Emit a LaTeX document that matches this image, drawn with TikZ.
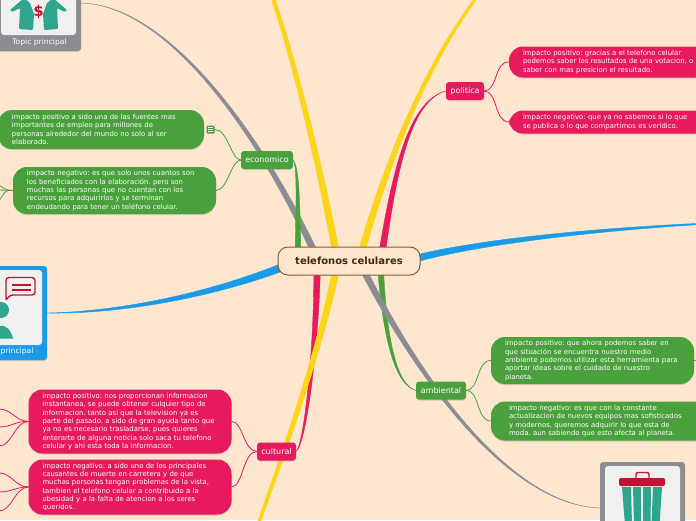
\documentclass[tikz,border=0pt]{standalone}
\usepackage{fontspec}
\setmainfont{DejaVu Sans}
\usetikzlibrary{calc,shadows}
\definecolor{paper}{RGB}{254,230,207}
\definecolor{leaf}{RGB}{75,160,62}
\definecolor{rose}{RGB}{230,26,93}
\definecolor{sky}{RGB}{26,155,232}
\definecolor{slate}{RGB}{140,141,146}
\definecolor{sun}{RGB}{252,212,24}
\definecolor{teal}{RGB}{47,165,142}
\definecolor{wine}{RGB}{196,18,52}
\definecolor{card}{RGB}{240,241,238}
% colour, start, control, control, end, half width at the start, half width at the end
\newcommand{\taper}[7]{\filldraw[#1,line width=0.4pt] ($(#2)+(#6)$) .. controls ($(#3)+0.66*(#6)+0.33*(#7)$) and ($(#4)+0.33*(#6)+0.66*(#7)$) .. ($(#5)+(#7)$) -- ($(#5)-(#7)$) .. controls ($(#4)-0.33*(#6)-0.66*(#7)$) and ($(#3)-0.66*(#6)-0.33*(#7)$) .. ($(#2)-(#6)$) -- cycle;}

\begin{document}
\begin{tikzpicture}[x=1pt,y=-1pt,every node/.style={outer sep=0pt}]

	\tikzstyle{topic}=[fill=#1,text=white,rounded corners=3pt,inner sep=0pt,minimum height=18pt,font=\fontsize{8}{10}\selectfont,drop shadow={shadow xshift=0pt,shadow yshift=-1pt,opacity=0.3}]
	\tikzstyle{bubble}=[fill=#1,text=white,rounded corners=14pt,inner xsep=14pt,inner ysep=0pt,align=left,font=\frenchspacing\fontsize{6.9}{8.35}\selectfont,drop shadow={shadow xshift=0pt,shadow yshift=-1pt,opacity=0.3}]
	\tikzstyle{twig}=[#1,line width=0.8pt]

	\useasboundingbox (0,0) rectangle (696,520);
	\fill[paper] (0,0) rectangle (696,520);

	% corner cards
	\fill[slate,rounded corners=3pt,drop shadow={shadow xshift=0pt,shadow yshift=-1pt,opacity=0.3}] (-10,-20) rectangle (81,51);
	\fill[card,rounded corners=3pt] (1,-20) rectangle (76,35);
	\node (card1) at (39.5,42.5) [text=white,font=\fontsize{7.6}{9}\selectfont] {Topic principal};
	\fill[teal,rounded corners=1pt] (24,-2) -- (10,10) -- (12,12) -- (20,8) -- (19,29) -- (33,30) -- (34,14) -- (30,3) -- cycle;
	\fill[teal,rounded corners=1pt] (53,-2) -- (67,10) -- (65,12) -- (57,8) -- (58,29) -- (44,30) -- (43,14) -- (47,3) -- cycle;
	\node (dollar) at (38.5,11.5) [text=wine,font=\bfseries\fontsize{15}{15}\selectfont] {\$};

	\fill[sky,rounded corners=3pt,drop shadow={shadow xshift=0pt,shadow yshift=-1pt,opacity=0.3}] (-20,266) rectangle (47,360);
	\fill[card,rounded corners=3pt] (-10,270) rectangle (42,345);
	\node (card2) at (17,351) [text=white,font=\fontsize{7.6}{9}\selectfont] {principal};
	\fill[teal] (1,310) circle (8);
	\fill[teal] (-12,338.5) .. controls (-10,325) and (8,318) .. (13,338.5) -- cycle;
	\draw[wine,line width=1.4pt,rounded corners=3pt] (6,299) -- (6,277.5) -- (35,277.5) -- (35,295) -- (10,295) -- (6,300);
	\draw[wine,line width=1.4pt] (12,285) -- (31,285) (12,290) -- (31,290);

	\fill[slate,rounded corners=3pt] (600,462) rectangle (685,540);
	\fill[card,rounded corners=3pt] (605,466) rectangle (680,540);
	\fill[wine,rounded corners=2pt] (619,478) rectangle (665,486);
	\draw[wine,line width=1.4pt,rounded corners=2pt] (636,478) -- (636,472.5) -- (649,472.5) -- (649,478);
	\foreach \xa/\xb/\xc/\xd in {622/631/625/632,633/641/634/641,643/651/643/650.5,653/662/651.5/659.5}
		\fill[teal] (\xa,487) -- (\xb,487) -- (\xd,525) -- (\xc,525) -- cycle;

	\fill[slate] (541,-5) rectangle (621,0);

	% main branches
	\coordinate (midgray1) at (312,247);
	\coordinate (midgray2) at (366,275);
	\coordinate (midsun1) at (335,247);
	\coordinate (midsun2) at (363,247);
	\coordinate (midsun3) at (335,275);
	\coordinate (midrose1) at (383,247);
	\coordinate (midrose2) at (317,275);
	\coordinate (midleaf1) at (298,247);
	\coordinate (midleaf2) at (381,275);
	\coordinate (midsky1) at (280,268);
	\coordinate (midsky2) at (418,258);
	\coordinate (topgray) at (81,3);
	\coordinate (lowgray) at (600,508);
	\coordinate (topsun1) at (273,-2);
	\coordinate (topsun2) at (476,-2);
	\coordinate (lowsun) at (259,522);
	\coordinate (ecoport) at (293,160);
	\coordinate (ambport) at (416,390.5);
	\coordinate (polport) at (446,91);
	\coordinate (culport) at (296,451.5);
	\coordinate (leftsky) at (47,313);
	\coordinate (farsky) at (698,224);

	\taper{slate}{midgray1}{262,140}{170,5}{topgray}{3.5,0}{0,0}
	\taper{leaf}{midleaf1}{298,200}{298,165}{ecoport}{2.8,0}{0,0}
	\taper{leaf}{midleaf2}{385,335}{395,385}{ambport}{2.8,0}{0,0}
	\taper{slate}{midgray2}{420,380}{510,505}{lowgray}{3.5,0}{0,0}
	\taper{rose}{midrose1}{395,170}{410,100}{polport}{3.2,0}{0,0}
	\taper{rose}{midrose2}{316,350}{305,445}{culport}{3.2,0}{0,0}
	\taper{sun}{midsun1}{320,170}{300,80}{topsun1}{3.5,0}{1.9,0}
	\taper{sun}{midsun2}{385,170}{420,75}{topsun2}{3.5,0}{1.5,0}
	\taper{sun}{midsun3}{318,355}{285,450}{lowsun}{3.5,0}{1.5,0}
	\taper{sky}{midsky1}{210,295}{120,313}{leftsky}{0,4}{0,0}
	\taper{sky}{midsky2}{480,242}{590,230}{farsky}{0,3.5}{0,0.6}

	\node (economico) at (267,160) [topic=leaf,minimum width=52pt] {economico};
	\node (politica) at (465,91) [topic=rose,minimum width=38pt] {politica};
	\node (ambiental) at (441,390.5) [topic=leaf,minimum width=50pt] {ambiental};
	\node (cultural) at (276.5,451.5) [topic=rose,minimum width=39pt] {cultural};

	\node (central) at (349,261) [draw={rgb,255:red,140;green,90;blue,50},fill=paper,line width=1pt,rounded corners=10pt,minimum width=142pt,minimum height=28pt,text={rgb,255:red,70;green,40;blue,10},font=\bfseries\fontsize{10}{12}\selectfont] {telefonos celulares};

	% economico
	\node (eco1) at (101,129.5) [bubble=leaf,minimum width=206pt,minimum height=39pt,text width=178pt] {impacto positivo a sido una de las fuentes mas\\importantes de empleo para millones de\\personas alrededor del mundo no solo al ser\\elaborado.};
	\node (eco2) at (114.5,190.5) [bubble=leaf,minimum width=203pt,minimum height=47pt,text width=175pt] {impacto negativo: es que solo unos cuantos son\\los beneficiados con la elaboración. pero son\\muchas las personas que no cuentan con los\\recursos para adquirirlos y se terminan\\endeudando para tener un teléfono celular.};
	\node (ecomark) at (210.5,129.5) [fill=leaf,rounded corners=1pt,minimum size=8pt,inner sep=0pt] {};
	\draw[white,line width=0.5pt] (208,127.7) -- (213,127.7) (208,129.5) -- (213,129.5) (208,131.3) -- (213,131.3);
	\draw [twig=leaf] (economico.west) .. controls (231,160) and (228,129) .. (ecomark.east);
	\draw [twig=leaf] (economico.west) .. controls (231,160) and (228,190) .. (eco2.east);
	\coordinate (ecoleft1) at (-1,185);
	\coordinate (ecoleft2) at (-1,190);
	\coordinate (ecoleft3) at (-1,201);
	\foreach \leftend in {ecoleft1,ecoleft2,ecoleft3}
		\draw [twig=leaf] (eco2.west) .. controls (6,190) .. (\leftend);

	% politica
	\node (pol1) at (609,62) [bubble=rose,minimum width=200pt,minimum height=31pt,text width=172pt] {impacto positivo: gracias a el telefono celular\\podemos saber los resultados de una votacion, o\\saber con mas presicion el resultado.};
	\node (pol2) at (609,122) [bubble=rose,minimum width=200pt,minimum height=23pt,text width=172pt] {impacto negativo: que ya no sabemos si lo que\\se publica o lo que compartimos es verídico.};
	\draw [twig=rose] (politica.east) .. controls (498,91) and (494,61) .. (pol1.west);
	\draw [twig=rose] (politica.east) .. controls (498,91) and (494,122) .. (pol2.west);

	% ambiental
	\node (amb1) at (592.5,360.5) [bubble=leaf,minimum width=203pt,minimum height=47pt,text width=175pt] {impacto positivo: que ahora podemos saber en\\que situación se encuentra nuestro medio\\ambiente podemos utilizar esta herramienta para\\aportar ideas sobre el cuidado de nuestro\\planeta.};
	\node (amb2) at (600,421) [bubble=leaf,minimum width=218pt,minimum height=39pt,text width=182pt] {impacto negativo: es que con la constante\\actualizacion de nuevos equipos mas sofisticados\\y modernos, queremos adquirir lo que esta de\\moda. aun sabiendo que esto afecta al planeta.};
	\draw [twig=leaf] (ambiental.east) .. controls (480,390) and (476,360) .. (amb1.west);
	\draw [twig=leaf] (ambiental.east) .. controls (480,390) and (476,421) .. (amb2.west);
	\coordinate (ambright) at (697,360);
	\draw [twig=leaf] (amb1.east) -- (ambright);

	% cultural
	\node (cul1) at (130,421.5) [bubble=rose,minimum width=203pt,minimum height=64pt,text width=175pt] {impacto positivo: nos proporcionan informacion\\instantanea, se puede obtener culquier tipo de\\informacion. tanto asi que la television ya es\\parte del pasado. a sido de gran ayuda tanto que\\ya no es necesario trasladarse, pues quieres\\enterarte de alguna noticia solo saca tu telefono\\celular y ahi esta toda la informacion.};
	\node (cul2) at (130,487) [bubble=rose,minimum width=203pt,minimum height=55pt,text width=175pt] {impacto negativo: a sido uno de los principales\\causantes de muerte en carretera y de que\\muchas personas tengan problemas de la vista,\\tambien el telefono celular a contribuido a la\\obesidad y a la falta de atencion a los seres\\queridos.};
	\draw [twig=rose] (cultural.west) .. controls (243,451) and (243,421) .. (cul1.east);
	\draw [twig=rose] (cultural.west) .. controls (243,451) and (243,487) .. (cul2.east);
	\foreach \stub/\ym/\ya/\yb/\yc in {cul1/421/409/427/446,cul2/487/473/492/511} {
		\foreach \yy in {\ya,\yb,\yc}
			\draw [twig=rose] (\stub.west) .. controls (15,\ym) and (12,\yy) .. (-1,\yy);
	}

\end{tikzpicture}
\end{document}
